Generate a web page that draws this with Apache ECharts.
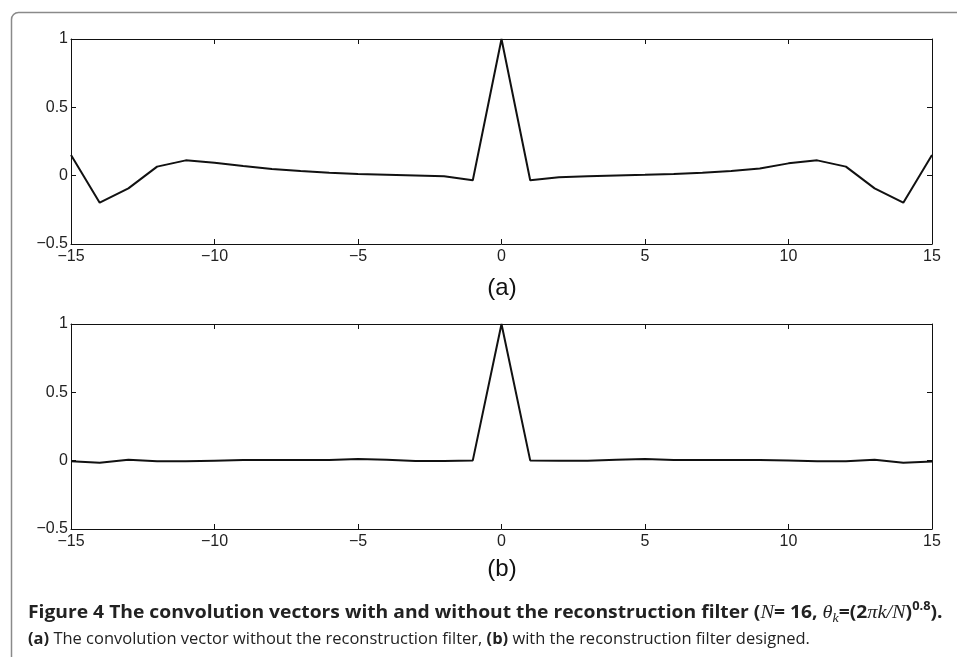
<!DOCTYPE html>
<html><head><meta charset="utf-8">
<script src="https://cdn.jsdelivr.net/npm/echarts@6/dist/echarts.min.js"></script>
<style>html,body{margin:0;padding:0;background:#fff}#c{width:957px;height:657px}</style>
</head><body><div id="c"></div>
<script>
// x positions (integer lags)
const lags = [-15,-14,-13,-12,-11,-10,-9,-8,-7,-6,-5,-4,-3,-2,-1,0,1,2,3,4,5,6,7,8,9,10,11,12,13,14,15];
// (a) convolution vector without reconstruction filter
const seriesA = [0.151,-0.198,-0.093,0.066,0.112,0.095,0.071,0.049,0.034,0.022,0.012,0.007,0.002,-0.005,-0.034,1,-0.034,-0.012,-0.004,0.002,0.006,0.013,0.022,0.034,0.052,0.090,0.112,0.066,-0.093,-0.198,0.151];
// (b) with the reconstruction filter designed
const seriesB = [-0.005,-0.015,0.007,-0.005,-0.005,0,0.005,0.005,0.005,0.005,0.012,0.006,-0.002,-0.002,0.002,1,0.002,0,0,0.006,0.012,0.005,0.005,0.005,0.005,0.002,-0.005,-0.005,0.007,-0.015,-0.007];
const xTicks = [-15,-10,-5,0,5,10,15];
const yTicks = [-0.5,0,0.5,1];
const panelLabels = ['(a)','(b)'];

const chart = echarts.init(document.getElementById('c'), null, {renderer:'canvas'});
const FONT = '"Liberation Sans", Arial, sans-serif';
const CAP = '"Open Sans", sans-serif';
const minus = v => String(v).replace('-', '\u2212');
const grids = [
  {left:71, top:39, width:861, height:205},
  {left:71, top:324, width:861, height:205}
];
const xAxes = [], yAxes = [];
grids.forEach((g, i) => {
  const base = {gridIndex:i, type:'value', min:xTicks[0], max:xTicks[xTicks.length-1], interval:5,
    splitLine:{show:false}, axisLine:{show:true,onZero:false,lineStyle:{color:'#111',width:1}},
    axisTick:{show:true,inside:true,length:5,lineStyle:{color:'#111'}}};
  xAxes.push(Object.assign({}, base, {position:'bottom',
    axisLabel:{show:true,margin:5,color:'#222',fontFamily:FONT,fontSize:16,formatter:minus}}));
  xAxes.push(Object.assign({}, base, {position:'top', axisLabel:{show:false}}));
  const ybase = {gridIndex:i, type:'value', min:yTicks[0], max:yTicks[yTicks.length-1], interval:0.5,
    splitLine:{show:false}, axisLine:{show:true,onZero:false,lineStyle:{color:'#111',width:1}},
    axisTick:{show:true,inside:true,length:5,lineStyle:{color:'#111'}}};
  yAxes.push(Object.assign({}, ybase, {position:'left',
    axisLabel:{show:true,margin:3,color:'#222',fontFamily:FONT,fontSize:16,formatter:minus}}));
  yAxes.push(Object.assign({}, ybase, {position:'right', axisLabel:{show:false}}));
});
const mk = (arr, i) => ({type:'line', xAxisIndex:i*2, yAxisIndex:i*2, symbol:'none', silent:true,
  lineStyle:{color:'#111',width:2}, data: lags.map((x, k) => [x, arr[k]])});

chart.setOption({
  animation:false,
  backgroundColor:'#fff',
  grid:grids,
  xAxis:xAxes,
  yAxis:yAxes,
  series:[mk(seriesA,0), mk(seriesB,1)],
  graphic:[
    {type:'rect', shape:{x:11.5,y:12.5,width:1000,height:700,r:7}, style:{fill:'none',stroke:'#8a8a8a',lineWidth:1.5}},
    {type:'text', x:502, y:288, style:{text:panelLabels[0], font:'24px '+FONT, fill:'#111', textAlign:'center', textVerticalAlign:'middle'}},
    {type:'text', x:502, y:569, style:{text:panelLabels[1], font:'24px '+FONT, fill:'#111', textAlign:'center', textVerticalAlign:'middle'}},
    {type:'text', x:28, y:613, scaleX:1.07, style:{
      text:'{b|Figure 4 The convolution vectors with and without the reconstruction filter (}{i|N}{b|= 16, }{i|θ}{sub|k}{b|=(2}{i|πk/N}{b|)}{sup|0.8}{b|).}',
      textVerticalAlign:'middle',
      rich:{
        b:{fontFamily:CAP, fontWeight:'bold', fontSize:18, fill:'#222', lineHeight:24},
        i:{fontFamily:'"Liberation Serif", serif', fontStyle:'italic', fontSize:19, fill:'#222', lineHeight:24},
        sub:{fontFamily:'"Liberation Serif", serif', fontStyle:'italic', fontSize:13, fill:'#222', verticalAlign:'bottom', lineHeight:24},
        sup:{fontFamily:CAP, fontWeight:'bold', fontSize:12, fill:'#222', verticalAlign:'top', lineHeight:24}
      }}},
    {type:'text', x:28, y:639, scaleX:1.03, style:{
      text:'{b|(a)}{r| The convolution vector without the reconstruction filter, }{b|(b)}{r| with the reconstruction filter designed.}',
      textVerticalAlign:'middle',
      rich:{
        b:{fontFamily:CAP, fontWeight:'bold', fontSize:16, fill:'#222'},
        r:{fontFamily:CAP, fontSize:16, fill:'#222'}
      }}}
  ]
});
</script></body></html>
